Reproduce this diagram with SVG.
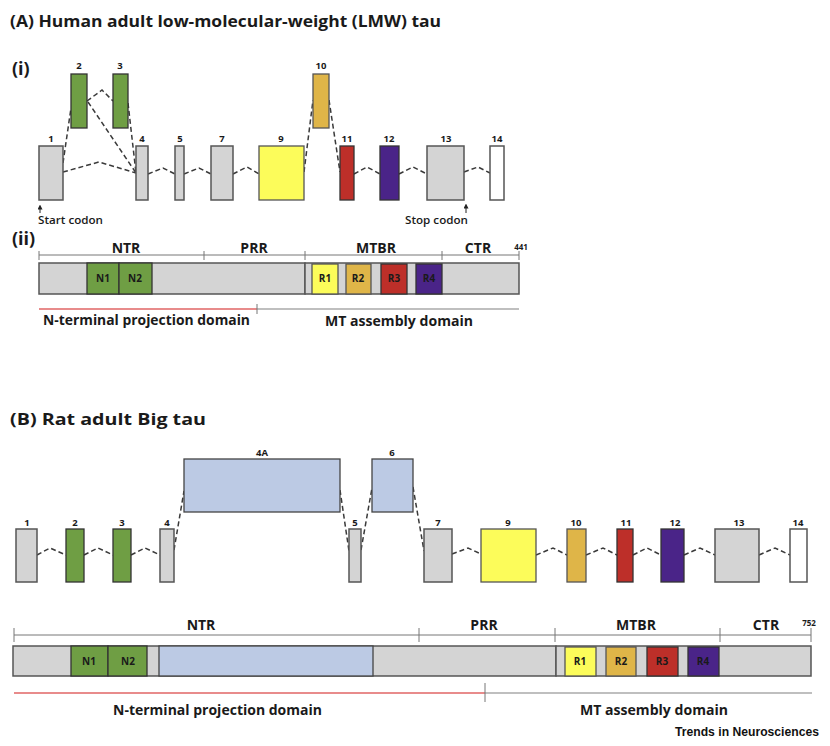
<svg xmlns="http://www.w3.org/2000/svg" width="830" height="746" viewBox="0 0 830 746">
<style>
text{font-family:"Open Sans","Liberation Sans",sans-serif;font-weight:700;fill:#1a1a1a}
.title{font-size:16.5px}
.sub{font-size:18px}
.ex{font-size:9.5px;text-anchor:middle}
.reg{font-size:14px;text-anchor:middle}
.dom{font-size:15px;font-weight:700}
.cod{font-size:11.5px;font-weight:600}
.box{font-size:10px;text-anchor:middle}
.g{fill:#d4d4d4;stroke:#555;stroke-width:1.5}
.grn{fill:#6f9e44;stroke:#333;stroke-width:1.3}
.yel{fill:#fcfc5a;stroke:#555;stroke-width:1.3}
.gld{fill:#dfb548;stroke:#555;stroke-width:1.3}
.red{fill:#bd2f29;stroke:#333;stroke-width:1.3}
.pur{fill:#4a2488;stroke:#333;stroke-width:1.3}
.blu{fill:#bccae4;stroke:#444;stroke-width:1.3}
.wht{fill:#fff;stroke:#555;stroke-width:1.5}
.dash{fill:none;stroke:#3a3a3a;stroke-width:1.5;stroke-dasharray:5 3}
.rul{fill:none;stroke:#777;stroke-width:1}
.rl{fill:none;stroke:#e06464;stroke-width:1.6}
.gl{fill:none;stroke:#aaa;stroke-width:1.6}
.arr{fill:none;stroke:#222;stroke-width:1}
</style>
<defs>
<marker id="ah" viewBox="0 0 6 6" refX="3" refY="3" markerWidth="5" markerHeight="5" orient="auto"><path d="M0,0 L6,3 L0,6 z" fill="#222"/></marker>
</defs>

<text class="title" x="10" y="27" textLength="431" lengthAdjust="spacingAndGlyphs">(A) Human adult low-molecular-weight (LMW) tau</text>
<text class="sub" x="12" y="75">(i)</text>

<g id="connectors-A">
<path class="dash" d="M63,163 L71,108"/>
<path class="dash" d="M63,172 L99,162 L136,173"/>
<path class="dash" d="M87,101 L102,90 L113,101"/>
<path class="dash" d="M88,102 L136,173"/>
<path class="dash" d="M128,103 L136,173"/>
<path class="dash" d="M148,174 L163,168 L175,174"/>
<path class="dash" d="M184,174 L199,168 L211,174"/>
<path class="dash" d="M233,174 L247,167 L259,174"/>
<path class="dash" d="M304,172 L313,100"/>
<path class="dash" d="M329,100 L340,172"/>
<path class="dash" d="M354,174 L367,167 L380,174"/>
<path class="dash" d="M399,174 L413,167 L427,174"/>
<path class="dash" d="M464,172 L478,167 L490,173"/>
</g>

<g id="A-exon1"><rect class="g" x="39" y="146" width="24" height="54"/><text class="ex" x="51" y="142">1</text></g>
<g id="A-exon2"><rect class="grn" x="71" y="74" width="16" height="54"/><text class="ex" x="79" y="69">2</text></g>
<g id="A-exon3"><rect class="grn" x="113" y="74" width="15" height="54"/><text class="ex" x="120" y="69">3</text></g>
<g id="A-exon4"><rect class="g" x="136" y="146" width="12" height="54"/><text class="ex" x="142" y="142">4</text></g>
<g id="A-exon5"><rect class="g" x="175" y="146" width="9" height="54"/><text class="ex" x="180" y="142">5</text></g>
<g id="A-exon7"><rect class="g" x="211" y="146" width="22" height="54"/><text class="ex" x="222" y="142">7</text></g>
<g id="A-exon9"><rect class="yel" x="259" y="146" width="45" height="54"/><text class="ex" x="281" y="142">9</text></g>
<g id="A-exon10"><rect class="gld" x="313" y="74" width="16" height="54"/><text class="ex" x="321" y="69">10</text></g>
<g id="A-exon11"><rect class="red" x="340" y="146" width="14" height="54"/><text class="ex" x="347" y="142">11</text></g>
<g id="A-exon12"><rect class="pur" x="380" y="146" width="19" height="54"/><text class="ex" x="389" y="142">12</text></g>
<g id="A-exon13"><rect class="g" x="427" y="146" width="37" height="54"/><text class="ex" x="446" y="142">13</text></g>
<g id="A-exon14"><rect class="wht" x="490" y="146" width="14" height="54"/><text class="ex" x="497" y="142">14</text></g>

<g id="start-codon"><path class="arr" d="M40,213 L40,207" marker-end="url(#ah)"/><text class="cod" x="38" y="224" textLength="65" lengthAdjust="spacingAndGlyphs">Start codon</text></g>
<g id="stop-codon"><path class="arr" d="M466,213 L466,206" marker-end="url(#ah)"/><text class="cod" x="405" y="224" textLength="63" lengthAdjust="spacingAndGlyphs">Stop codon</text></g>

<text class="sub" x="12" y="245">(ii)</text>
<g id="A-ruler">
<path class="rul" d="M39,255 H519 M39,251 V260 M204,251 V260 M305,251 V260 M442,251 V260 M519,251 V260"/>
<text class="reg" x="126" y="253">NTR</text>
<text class="reg" x="254" y="253">PRR</text>
<text class="reg" x="376" y="253">MTBR</text>
<text class="reg" x="478" y="253">CTR</text>
<text x="521" y="250" style="font-size:8px;text-anchor:middle">441</text>
</g>
<g id="A-protein">
<rect class="g" x="39" y="263" width="266" height="31"/>
<rect class="g" x="305" y="263" width="214" height="31"/>
<rect class="grn" x="87" y="263" width="32" height="31"/><text class="box" x="103" y="282">N1</text>
<rect class="grn" x="119" y="263" width="33" height="31"/><text class="box" x="135" y="282">N2</text>
<rect class="yel" x="312" y="264" width="26" height="30"/><text class="box" x="325" y="282">R1</text>
<rect class="gld" x="346" y="264" width="25" height="30"/><text class="box" x="358" y="282">R2</text>
<rect class="red" x="381" y="264" width="26" height="30"/><text class="box" x="394" y="282">R3</text>
<rect class="pur" x="416" y="264" width="26" height="30"/><text class="box" x="429" y="282">R4</text>
</g>
<g id="A-domains">
<path class="rl" d="M39,309 H257"/>
<path class="gl" d="M257,309 H519"/>
<path class="rul" d="M257,304 V314"/>
<text class="dom" x="43" y="325" textLength="207" lengthAdjust="spacingAndGlyphs">N-terminal projection domain</text>
<text class="dom" x="325" y="326" textLength="148" lengthAdjust="spacingAndGlyphs">MT assembly domain</text>
</g>

<text class="title" x="10" y="425" textLength="196" lengthAdjust="spacingAndGlyphs">(B) Rat adult Big tau</text>

<g id="connectors-B">
<path class="dash" d="M37,555 L50,548 L66,555"/>
<path class="dash" d="M84,555 L98,548 L113,555"/>
<path class="dash" d="M131,555 L145,548 L160,555"/>
<path class="dash" d="M174,550 L184,491"/>
<path class="dash" d="M340,490 L349,551"/>
<path class="dash" d="M361,550 L372,488"/>
<path class="dash" d="M413,487 L424,551"/>
<path class="dash" d="M452,554 L468,548 L481,554"/>
<path class="dash" d="M536,555 L553,548 L567,555"/>
<path class="dash" d="M586,555 L603,548 L617,555"/>
<path class="dash" d="M633,555 L647,548 L661,555"/>
<path class="dash" d="M684,555 L700,548 L715,555"/>
<path class="dash" d="M759,555 L775,548 L790,555"/>
</g>

<g id="B-exon1"><rect class="g" x="16" y="529" width="21" height="53"/><text class="ex" x="27" y="526">1</text></g>
<g id="B-exon2"><rect class="grn" x="66" y="529" width="18" height="53"/><text class="ex" x="75" y="526">2</text></g>
<g id="B-exon3"><rect class="grn" x="113" y="529" width="18" height="53"/><text class="ex" x="122" y="526">3</text></g>
<g id="B-exon4"><rect class="g" x="160" y="529" width="14" height="53"/><text class="ex" x="167" y="526">4</text></g>
<g id="B-exon4A"><rect class="blu" x="184" y="459" width="156" height="53"/><text class="ex" x="262" y="456">4A</text></g>
<g id="B-exon5"><rect class="g" x="349" y="529" width="12" height="53"/><text class="ex" x="355" y="526">5</text></g>
<g id="B-exon6"><rect class="blu" x="372" y="459" width="41" height="53"/><text class="ex" x="392" y="456">6</text></g>
<g id="B-exon7"><rect class="g" x="424" y="529" width="28" height="53"/><text class="ex" x="438" y="526">7</text></g>
<g id="B-exon9"><rect class="yel" x="481" y="529" width="55" height="53"/><text class="ex" x="508" y="526">9</text></g>
<g id="B-exon10"><rect class="gld" x="567" y="529" width="19" height="53"/><text class="ex" x="576" y="526">10</text></g>
<g id="B-exon11"><rect class="red" x="617" y="529" width="16" height="53"/><text class="ex" x="626" y="526">11</text></g>
<g id="B-exon12"><rect class="pur" x="661" y="529" width="23" height="53"/><text class="ex" x="675" y="526">12</text></g>
<g id="B-exon13"><rect class="g" x="715" y="529" width="44" height="53"/><text class="ex" x="739" y="526">13</text></g>
<g id="B-exon14"><rect class="wht" x="790" y="529" width="17" height="53"/><text class="ex" x="798" y="526">14</text></g>

<g id="B-ruler">
<path class="rul" d="M14,635 H811 M14,628 V642 M419,628 V642 M555,628 V642 M720,628 V642 M811,628 V642"/>
<text class="reg" x="201" y="630">NTR</text>
<text class="reg" x="484" y="630">PRR</text>
<text class="reg" x="636" y="630">MTBR</text>
<text class="reg" x="766" y="630">CTR</text>
<text x="809" y="626" style="font-size:8px;text-anchor:middle">752</text>
</g>
<g id="B-protein">
<rect class="g" x="13" y="646" width="543" height="30"/>
<rect class="g" x="556" y="646" width="255" height="30"/>
<rect class="grn" x="71" y="646" width="37" height="30"/><text class="box" x="89" y="665">N1</text>
<rect class="grn" x="108" y="646" width="39" height="30"/><text class="box" x="128" y="665">N2</text>
<rect class="blu" x="159" y="646" width="214" height="30"/>
<rect class="yel" x="565" y="647" width="31" height="29"/><text class="box" x="580" y="665">R1</text>
<rect class="gld" x="606" y="647" width="30" height="29"/><text class="box" x="621" y="665">R2</text>
<rect class="red" x="647" y="647" width="31" height="29"/><text class="box" x="662" y="665">R3</text>
<rect class="pur" x="688" y="647" width="31" height="29"/><text class="box" x="703" y="665">R4</text>
</g>
<g id="B-domains">
<path class="rl" d="M14,693 H485"/>
<path class="gl" d="M485,693 H812"/>
<path class="rul" d="M485,683 V702"/>
<text class="dom" x="113" y="715" textLength="209" lengthAdjust="spacingAndGlyphs">N-terminal projection domain</text>
<text class="dom" x="580" y="715" textLength="148" lengthAdjust="spacingAndGlyphs">MT assembly domain</text>
</g>

<text x="675" y="736" textLength="144" lengthAdjust="spacingAndGlyphs" style="font-family:'Liberation Sans',Arial,sans-serif;font-size:12.5px;font-weight:700;fill:#111">Trends in Neurosciences</text>
</svg>
